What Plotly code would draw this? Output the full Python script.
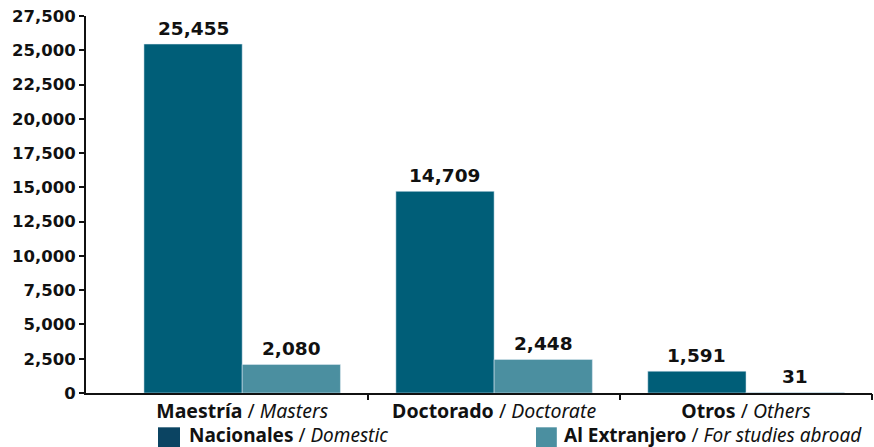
import plotly.graph_objects as go

categories = ["<b>Maestría</b> / <i>Masters</i>", "<b>Doctorado</b> / <i>Doctorate</i>", "<b>Otros</b> / <i>Others</i>"]
nacionales = [25455, 14709, 1591]
extranjero = [2080, 2448, 31]
y_ticks = list(range(0, 27501, 2500))

C_NAC = "#005e78"
C_EXT = "#4b8fa0"
C_NAC_LEG = "#0b4462"

LABEL_FONT = "Noto Sans"
BARGAP = 0.22
xpos = list(range(len(categories)))
half = (1 - BARGAP) / 4  # centre offset of each bar within its group
valfont = dict(family="DejaVu Sans", size=18.5, color="#111111", weight="bold")

fig = go.Figure()
fig.add_trace(go.Bar(x=xpos, y=nacionales, marker_color=C_NAC, name="Nacionales", showlegend=False))
fig.add_trace(go.Bar(x=xpos, y=extranjero, marker_color=C_EXT, name="Al Extranjero", showlegend=False))
fig.add_trace(go.Scatter(x=[None], y=[None], xaxis="x2", showlegend=False, hoverinfo="skip"))

for series, off in ((nacionales, -half), (extranjero, half)):
    for i, v in zip(xpos, series):
        fig.add_annotation(x=i + off, y=v, text=f"{v:,}", showarrow=False,
                           yanchor="middle", yshift=16, font=valfont)

fig.update_layout(
    width=874, height=447,
    margin=dict(l=86, r=2, t=16, b=54, autoexpand=False),
    plot_bgcolor="white", paper_bgcolor="white",
    barmode="group", bargap=BARGAP, bargroupgap=0,
    font=dict(family=LABEL_FONT, size=19, color="#111111"),
    xaxis=dict(range=[-0.62, 2.5], tickvals=xpos, ticktext=categories, ticks="",
               showline=True, linecolor="#111111", linewidth=2, showgrid=False, zeroline=False,
               automargin=False,
               tickfont=dict(family=LABEL_FONT, size=19.5, color="#111111")),
    xaxis2=dict(overlaying="x", matches="x", anchor="y", side="bottom", automargin=False,
                tickvals=[0.5, 1.5, 2.5], ticks="outside", ticklen=6, tickwidth=2,
                tickcolor="#111111", showticklabels=False, showline=False,
                showgrid=False, zeroline=False),
    yaxis=dict(range=[0, 27500], tickvals=y_ticks, tickformat=",", ticks="outside",
               ticklen=5, tickwidth=2, tickcolor="#111111", automargin=False,
               showline=True, linecolor="#111111", linewidth=2, showgrid=False, zeroline=False,
               tickfont=dict(family="DejaVu Sans", size=16.5, color="#111111", weight="bold")),
)

# legend (custom, bottom)
legend_items = [
    (C_NAC_LEG, "<b>Nacionales</b> / <i>Domestic</i>", 0.0916, 0.1196, 0.130, 19),
    (C_EXT, "<b>Al Extranjero</b> / <i>For studies abroad</i>", 0.5725, 0.599, 0.607, 19),
]
for col, txt, x0, x1, xt, fs in legend_items:
    fig.add_shape(type="rect", xref="paper", yref="paper", x0=x0, x1=x1, y0=-0.146, y1=-0.091,
                  fillcolor=col, line_width=0, layer="above")
    fig.add_annotation(xref="paper", yref="paper", x=xt, y=-0.111, text=txt, showarrow=False,
                       xanchor="left", yanchor="middle", borderpad=0,
                       font=dict(family=LABEL_FONT, size=fs, color="#111111"))

fig.write_html("out.html", config={"displayModeBar": False},
               post_script="document.body.style.margin='0';")
